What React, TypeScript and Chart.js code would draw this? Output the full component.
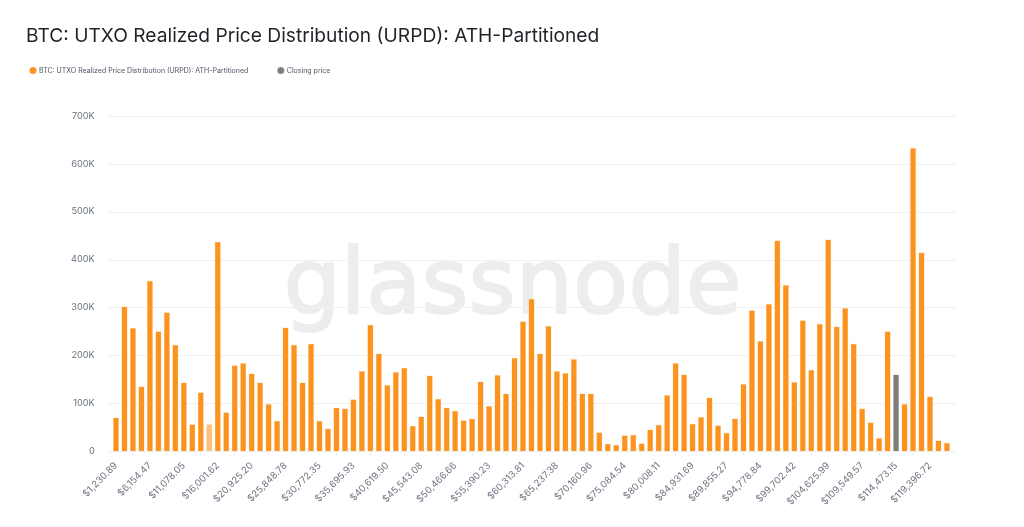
import React, { useEffect, useRef } from "react";
import { Chart, registerables } from "chart.js";

Chart.register(...registerables);

const TITLE = "BTC: UTXO Realized Price Distribution (URPD): ATH-Partitioned";
const SERIES_NAME = "BTC: UTXO Realized Price Distribution (URPD): ATH-Partitioned";
const CLOSING_NAME = "Closing price";
const WATERMARK = "glassnode";

const tickLabels = [
  "$1,230.89", "$6,154.47", "$11,078.05", "$16,001.62", "$20,925.20", "$25,848.78", "$30,772.35",
  "$35,695.93", "$40,619.50", "$45,543.08", "$50,466.66", "$55,390.23", "$60,313.81", "$65,237.38",
  "$70,160.96", "$75,084.54", "$80,008.11", "$84,931.69", "$89,855.27", "$94,778.84", "$99,702.42",
  "$104,625.99", "$109,549.57", "$114,473.15", "$119,396.72",
];
const TICK_EVERY = 4;

// thousands of BTC per price bucket
const urpd = [
  70, 302, 257, 135, 356, 250, 290, 222, 143, 56, 123, 56, 437, 81, 179, 184, 162, 143, 98, 63,
  258, 222, 143, 224, 63, 47, 91, 89, 108, 167, 264, 204, 138, 165, 174, 53, 72, 158, 109, 91,
  84, 64, 68, 145, 94, 159, 120, 195, 271, 318, 204, 261, 167, 163, 192, 120, 120, 39, 15, 13,
  33, 34, 16, 45, 55, 117, 184, 160, 57, 71, 112, 54, 38, 68, 140, 294, 230, 307, 440, 347,
  144, 273, 170, 266, 442, 260, 299, 224, 89, 60, 27, 250, 0, 98, 633, 415, 114, 22, 17,
];
const closingIndex = 92;
const closingValue = 160;
const fadedIndex = 11;

const ORANGE = "#fb931e";
const GREY = "#7d7d7d";
const GRID = "#f1f1f1";
const TEXT = "#6b7280";

const categories = urpd.map((_, i) =>
  i % TICK_EVERY === 0 ? tickLabels[i / TICK_EVERY] : `bucket ${i + 1}`
);
const mainData = urpd.map((v, i) => (i === closingIndex ? null : v * 1000));
const closingData = urpd.map((_, i) => (i === closingIndex ? closingValue * 1000 : null));

const backdrop = {
  id: "backdrop",
  afterInit(chart: any) {
    const legend = chart.legend;
    const fit = legend.fit;
    legend.fit = function () {
      fit.call(this);
      this.height += 21;
    };
    const draw = legend.draw;
    legend.draw = function (...args: any[]) {
      chart.ctx.save();
      chart.ctx.translate(-25.5, -11);
      draw.apply(this, args);
      chart.ctx.restore();
    };
  },
  beforeDatasetsDraw(chart: any) {
    const { ctx, scales } = chart;
    ctx.save();
    ctx.fillStyle = "#ededed";
    ctx.strokeStyle = "#ededed";
    ctx.lineWidth = 2;
    ctx.lineJoin = "round";
    ctx.font = "90.5px 'DejaVu Sans'";
    ctx.textAlign = "center";
    ctx.textBaseline = "alphabetic";
    ctx.fillText(WATERMARK, 512.5, 313);
    ctx.strokeText(WATERMARK, 512.5, 313);
    ctx.strokeStyle = GRID;
    ctx.lineWidth = 1;
    for (const t of scales.y.ticks) {
      const y = Math.round(scales.y.getPixelForValue(t.value)) + 0.5;
      ctx.beginPath();
      ctx.moveTo(108, y);
      ctx.lineTo(956, y);
      ctx.stroke();
    }
    ctx.restore();
  },
};

export default function App() {
  const ref = useRef<HTMLCanvasElement>(null);
  useEffect(() => {
    const chart = new Chart(ref.current!, {
      type: "bar",
      data: {
        labels: categories,
        datasets: [
          {
            label: SERIES_NAME,
            data: mainData,
            backgroundColor: urpd.map((_, i) => (i === fadedIndex ? "rgba(251,147,30,0.6)" : ORANGE)),
            borderColor: "rgba(253,205,150,0.9)",
            borderWidth: 0.5,
            barPercentage: 0.72,
            categoryPercentage: 1,
          },
          {
            label: CLOSING_NAME,
            data: closingData,
            backgroundColor: GREY,
            borderColor: "rgba(200,200,200,0.9)",
            borderWidth: 0.5,
            barPercentage: 0.72,
            categoryPercentage: 1,
          },
        ],
      } as any,
      options: {
        responsive: false,
        animation: false,
        layout: { padding: { left: 26, right: 72.8, top: 25, bottom: 0 } },
        plugins: {
          title: {
            display: true,
            text: TITLE,
            align: "start",
            color: "#1f2328",
            font: { family: "Inter", size: 19.18, weight: "400" },
            padding: { top: 0, bottom: 0 },
          },
          legend: {
            display: true,
            align: "start",
            labels: {
              usePointStyle: true,
              boxWidth: 5,
              boxHeight: 5,
              padding: 30,
              color: "#4b5563",
              font: { family: "Inter", size: 7 },
            },
          },
          tooltip: { enabled: false },
        },
        scales: {
          x: {
            stacked: true,
            afterFit(s: any) { s.height = 76; },
            grid: { drawOnChartArea: false, drawTicks: true, tickLength: 5, color: "#eeeeee" },
            border: { display: false },
            ticks: {
              autoSkip: false,
              maxRotation: 45,
              minRotation: 45,
              padding: 4,
              color: TEXT,
              font: { family: "Inter", size: 9.5 },
              callback(_: any, i: number) {
                return i % TICK_EVERY === 0 ? tickLabels[i / TICK_EVERY] : null;
              },
            },
          },
          y: {
            stacked: true,
            min: 0,
            max: 700000,
            afterFit(s: any) { s.width = 85.76; },
            grid: { display: false },
            border: { display: false },
            ticks: {
              stepSize: 100000,
              padding: 9,
              color: TEXT,
              font: { family: "Inter", size: 9.2 },
              callback(v: any) { return v === 0 ? "0" : `${Number(v) / 1000}K`; },
            },
          },
        },
      } as any,
      plugins: [backdrop],
    });
    return () => chart.destroy();
  }, []);
  return (
    <div style={{ position: "fixed", left: 0, top: 0, width: 1024, height: 527, background: "#fff" }}>
      <canvas ref={ref} width={1024} height={527} style={{ display: "block" }} />
    </div>
  );
}
